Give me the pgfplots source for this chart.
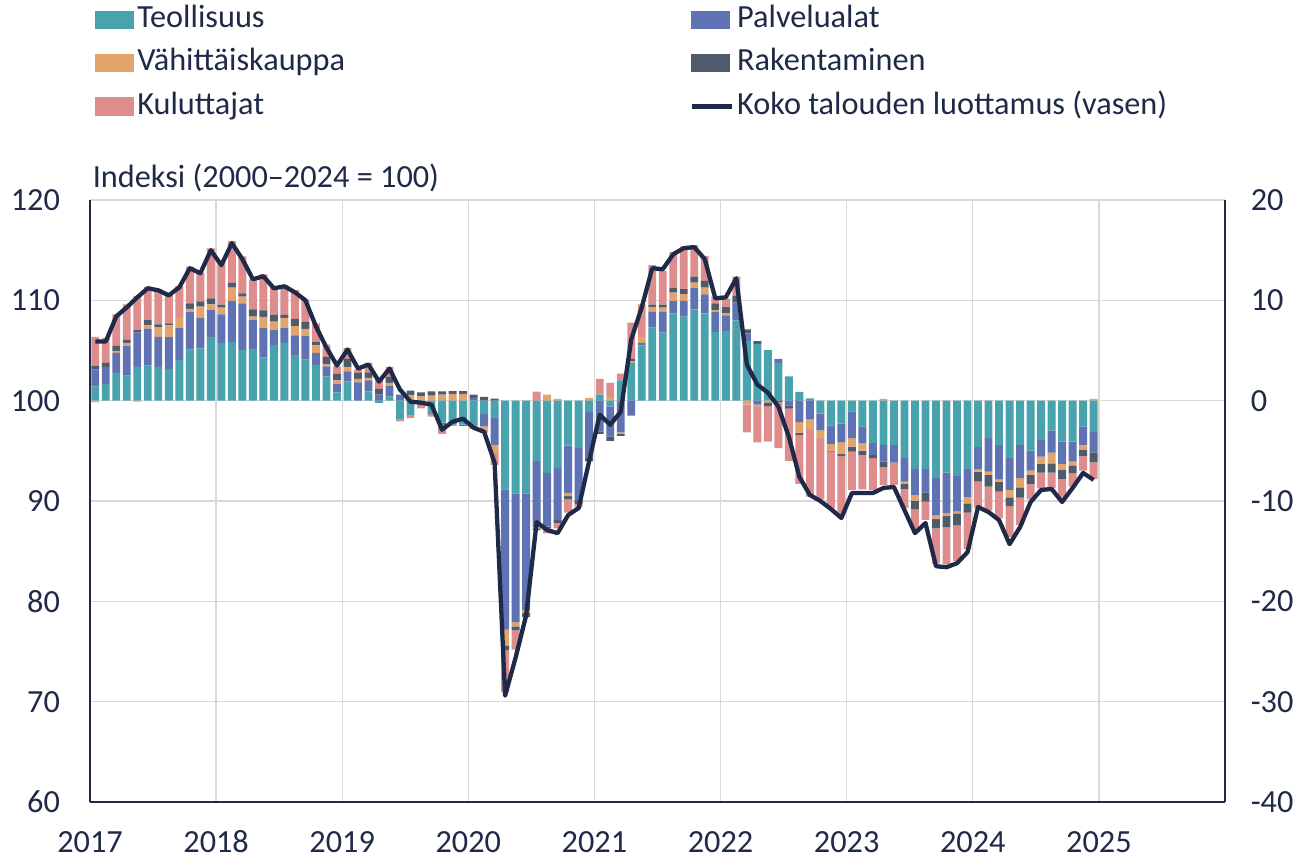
\documentclass[border=0pt]{standalone}
\usepackage{pgfplots}
\pgfplotsset{compat=1.18}
\usepackage{pgfplotstable}
\usepackage{fontspec}
\setmainfont{Carlito}

\definecolor{teol}{HTML}{48A3AF}
\definecolor{palv}{HTML}{5E72B4}
\definecolor{vahi}{HTML}{E0A46C}
\definecolor{rak}{HTML}{4F5B6A}
\definecolor{kul}{HTML}{DE8C8C}
\definecolor{navy}{HTML}{1F2A48}
\definecolor{gridc}{HTML}{D9D9D9}

\pgfplotsset{
  base/.style={scale only axis, width=397.25pt, height=210.7pt,
    xmin=0, xmax=108,
    font=\fontsize{11.3}{13.6}\selectfont,
    /pgf/number format/assume math mode=true},
}

% contributions in right-axis units, L = overall confidence (left axis)
\pgfplotstableread{
x T P V R K L
0.5 1.43 1.67 -0.15 0.40 2.87 105.9
1.5 1.67 1.70 0.00 0.40 2.50 105.9
2.5 2.77 2.00 0.20 0.50 3.13 108.4
3.5 2.50 2.93 0.33 0.33 3.50 109.3
4.5 3.37 3.40 -0.10 0.27 3.40 110.3
5.5 3.50 3.67 0.33 0.53 3.33 111.2
6.5 3.37 3.00 0.97 0.27 3.50 111.0
7.5 3.17 3.17 1.17 0.20 2.90 110.5
8.5 4.03 3.20 1.03 0.00 3.17 111.3
9.5 5.10 3.73 0.33 0.53 3.67 113.2
10.5 5.20 3.07 1.10 0.53 2.87 112.7
11.5 6.33 2.70 0.57 0.60 4.97 115.0
12.5 5.77 2.83 0.67 0.30 4.27 113.5
13.5 5.83 4.10 1.33 0.50 4.17 115.7
14.5 5.03 4.67 0.67 0.33 3.67 114.1
15.5 5.17 2.87 0.33 0.73 3.00 112.1
16.5 4.30 2.93 1.13 0.63 3.60 112.4
17.5 5.57 1.47 0.83 0.70 2.87 111.2
18.5 5.77 1.47 1.00 0.30 2.97 111.4
19.5 4.57 1.93 0.93 0.73 2.87 110.8
20.5 4.10 2.33 0.73 0.73 2.21 110.0
21.5 3.57 1.20 0.73 0.33 1.87 107.4
22.5 2.43 1.00 0.20 0.73 1.23 105.3
23.5 0.83 0.87 0.33 0.67 0.73 103.5
24.5 1.93 1.00 0.40 0.83 1.10 105.1
25.5 0.00 1.83 0.33 0.60 0.33 103.2
26.5 0.93 1.10 0.23 0.57 0.93 103.6
27.5 -0.23 0.60 0.00 0.57 0.93 101.9
28.5 0.43 1.07 0.27 0.60 1.00 103.2
29.5 -1.90 0.60 0.00 0.00 -0.17 101.1
30.5 -1.50 0.00 0.57 0.43 -0.23 99.9
31.5 -0.50 0.00 0.43 0.40 -0.27 99.8
32.5 -1.33 0.00 0.50 0.43 -0.27 99.6
33.5 -2.20 -0.33 0.60 0.33 -0.77 97.1
34.5 -2.20 -0.20 0.67 0.27 -0.10 97.9
35.5 -2.40 -0.10 0.67 0.27 0.00 98.2
36.5 -2.50 0.27 -0.30 0.33 0.00 97.3
37.5 -1.33 -1.23 -0.33 0.37 -0.30 96.9
38.5 -1.73 -2.67 -0.83 0.20 -1.17 93.8
39.5 -8.83 -14.00 -1.57 -0.50 -4.17 70.6
40.5 -9.23 -12.83 -0.43 -0.40 -1.93 74.4
41.5 -9.23 -11.67 -0.27 -0.40 0.00 78.6
42.5 -6.00 -6.57 -0.17 -0.17 0.90 87.9
43.5 -7.23 -5.33 0.60 -0.17 -0.50 87.1
44.5 -6.73 -5.17 0.17 -0.27 -0.57 86.8
45.5 -4.47 -4.77 -0.27 -0.33 -1.33 88.6
46.5 -4.73 -5.17 0.00 -0.40 -0.33 89.3
47.5 -1.13 -4.60 0.27 -0.33 0.00 94.0
48.5 0.60 -3.07 0.00 -0.23 1.57 98.6
49.5 -0.57 -3.00 0.37 -0.43 1.40 97.6
50.5 2.03 -3.17 -0.13 -0.20 0.67 98.9
51.5 3.77 -1.50 0.17 0.23 3.60 106.1
52.5 5.50 0.27 0.60 0.00 3.23 109.3
53.5 7.27 1.57 0.50 0.23 3.93 113.2
54.5 6.77 2.07 0.43 0.30 3.36 113.1
55.5 8.70 1.23 0.83 0.50 3.57 114.6
56.5 8.37 1.57 0.67 0.50 4.27 115.2
57.5 9.10 2.17 0.50 0.60 3.13 115.3
58.5 8.70 1.90 0.67 0.67 2.50 114.1
59.5 6.83 2.00 0.20 0.67 0.67 110.2
60.5 6.93 1.57 0.20 0.63 0.83 110.3
61.5 8.00 1.77 0.00 0.67 1.93 112.2
62.5 5.93 0.77 -0.40 0.40 -2.77 103.6
63.5 5.67 -0.40 -0.23 0.27 -3.53 101.6
64.5 5.03 0.00 -0.17 -0.40 -3.50 100.8
65.5 3.77 0.40 0.00 -0.17 -4.57 99.4
66.5 2.43 -0.47 0.00 -0.33 -5.20 96.4
67.5 0.87 -2.13 -1.10 -0.17 -4.90 92.4
68.5 0.23 -1.83 -1.07 0.00 -6.67 90.6
69.5 -1.30 -1.67 -0.77 0.00 -6.10 90.0
70.5 -2.47 -1.83 -0.67 -0.10 -5.67 89.2
71.5 -2.30 -1.83 -1.20 -0.23 -5.73 88.3
72.5 -1.07 -2.67 -0.83 -0.50 -3.83 90.8
73.5 -2.57 -1.67 -0.73 -0.43 -3.43 90.8
74.5 -4.23 -1.17 0.00 -0.33 -3.17 90.8
75.5 -4.40 -1.67 0.17 -0.57 -1.77 91.3
76.5 -4.40 -1.77 0.00 0.00 -2.23 91.4
77.5 -5.73 -2.33 -0.23 -0.50 -1.93 89.1
78.5 -6.83 -2.57 -0.57 -0.83 -2.03 86.8
79.5 -6.83 -2.30 0.00 -0.93 -1.83 87.8
80.5 -7.73 -3.67 -0.40 -0.93 -3.50 83.5
81.5 -7.17 -4.07 -0.27 -1.13 -3.67 83.4
82.5 -7.50 -3.50 -0.23 -1.17 -3.57 83.8
83.5 -6.83 -2.80 -0.60 -0.93 -3.67 84.9
84.5 -4.63 -2.20 -0.23 -1.00 -2.67 89.4
85.5 -3.73 -3.33 -0.33 -1.17 -2.40 88.9
86.5 -4.40 -3.43 -0.23 -1.00 -2.67 88.1
87.5 -5.73 -3.17 -0.73 -0.87 -3.07 85.7
88.5 -4.40 -3.33 -0.90 -1.03 -2.73 87.4
89.5 -4.97 -2.00 -0.43 -0.90 -1.53 89.9
90.5 -3.90 -1.67 -0.73 -0.87 -1.57 91.1
91.5 -2.97 -2.20 -1.07 -0.93 -1.57 91.2
92.5 -4.07 -2.23 -0.60 -0.90 -1.83 89.9
93.5 -4.07 -2.00 -0.37 -0.80 -1.33 91.3
94.5 -2.57 -1.83 -0.50 -0.60 -1.47 92.8
95.5 -3.13 -2.03 0.17 -1.00 -1.67 92.1
}\conf

\begin{document}
\begin{tikzpicture}
\useasboundingbox (-31.5pt,-19.95pt) rectangle (424.2pt,280.7pt);

% frame, grid, left and bottom ticks
\begin{axis}[base, ymin=60, ymax=120,
    ytick={60,70,...,120},
    xtick={0,12,...,96},
    xticklabels={2017,2018,2019,2020,2021,2022,2023,2024,2025},
    xmajorgrids, ymajorgrids,
    grid style={gridc, line width=0.5pt},
    axis x line*=bottom, axis y line*=left,
    axis line style={navy, line width=0.6pt, -},
    major tick length=0pt,
    tick label style={text=navy},
    yticklabel style={xshift=-7pt},
    xticklabel style={anchor=base, yshift=-17.6pt},
    clip=false]
  \node[anchor=base west, text=navy, inner sep=0pt] at (rel axis cs:0,1)
    [xshift=0.8pt, yshift=4.4pt] {Indeksi (2000–2024 = 100)};
\end{axis}

% positive contributions
\begin{axis}[base, ybar stacked, bar width=0.75,
    ymin=-40, ymax=20,
    axis x line=none, axis y line*=right,
    axis line style={navy, line width=0.6pt, -},
    ytick={-40,-30,...,20},
    yticklabels={-40,-30,-20,-10,0,10,20},
    major tick length=0pt,
    tick label style={text=navy},
    yticklabel style={xshift=5.5pt}]
  \addplot[fill=teol, draw=none] table[x=x, y expr={max(\thisrow{T},0)}] {\conf};
  \addplot[fill=palv, draw=none] table[x=x, y expr={max(\thisrow{P},0)}] {\conf};
  \addplot[fill=vahi, draw=none] table[x=x, y expr={max(\thisrow{V},0)}] {\conf};
  \addplot[fill=rak, draw=none] table[x=x, y expr={max(\thisrow{R},0)}] {\conf};
  \addplot[fill=kul, draw=none] table[x=x, y expr={max(\thisrow{K},0)}] {\conf};
\end{axis}

% negative contributions
\begin{axis}[base, ybar stacked, bar width=0.75,
    ymin=-40, ymax=20, hide axis]
  \addplot[fill=teol, draw=none] table[x=x, y expr={min(\thisrow{T},0)}] {\conf};
  \addplot[fill=palv, draw=none] table[x=x, y expr={min(\thisrow{P},0)}] {\conf};
  \addplot[fill=vahi, draw=none] table[x=x, y expr={min(\thisrow{V},0)}] {\conf};
  \addplot[fill=rak, draw=none] table[x=x, y expr={min(\thisrow{R},0)}] {\conf};
  \addplot[fill=kul, draw=none] table[x=x, y expr={min(\thisrow{K},0)}] {\conf};
\end{axis}

% overall confidence line and legend
\begin{axis}[base, ymin=60, ymax=120, hide axis,
    legend columns=2,
    legend cell align=left,
    legend style={at={(0.0044,1.326)}, anchor=north west,
      draw=none, fill=none, inner sep=0pt, outer sep=0pt,
      text=navy, font=\fontsize{11.3}{13.6}\selectfont,
      nodes={inner sep=0.6pt, text height=7.6pt, text depth=2.4pt},
      row sep=4.0pt,
      /tikz/every odd column/.append style={column sep=0.5pt},
      /tikz/every even column/.append style={column sep=120pt}}]
  \addlegendimage{legend image code/.code={\fill[teol] (0pt,-3pt) rectangle (13.3pt,3pt);}}
  \addlegendentry{Teollisuus}
  \addlegendimage{legend image code/.code={\fill[palv] (0pt,-3pt) rectangle (13.3pt,3pt);}}
  \addlegendentry{Palvelualat}
  \addlegendimage{legend image code/.code={\fill[vahi] (0pt,-3pt) rectangle (13.3pt,3pt);}}
  \addlegendentry{Vähittäiskauppa}
  \addlegendimage{legend image code/.code={\fill[rak] (0pt,-3pt) rectangle (13.3pt,3pt);}}
  \addlegendentry{Rakentaminen}
  \addlegendimage{legend image code/.code={\fill[kul] (0pt,-3pt) rectangle (13.3pt,3pt);}}
  \addlegendentry{Kuluttajat}
  \addlegendimage{legend image code/.code={\draw[navy, line width=1.5pt] (0pt,0pt) -- (14pt,0pt);}}
  \addlegendentry{Koko talouden luottamus (vasen)}
  \addplot[navy, line width=1.5pt, line join=round, forget plot] table[x=x, y=L] {\conf};
\end{axis}
\end{tikzpicture}
\end{document}
